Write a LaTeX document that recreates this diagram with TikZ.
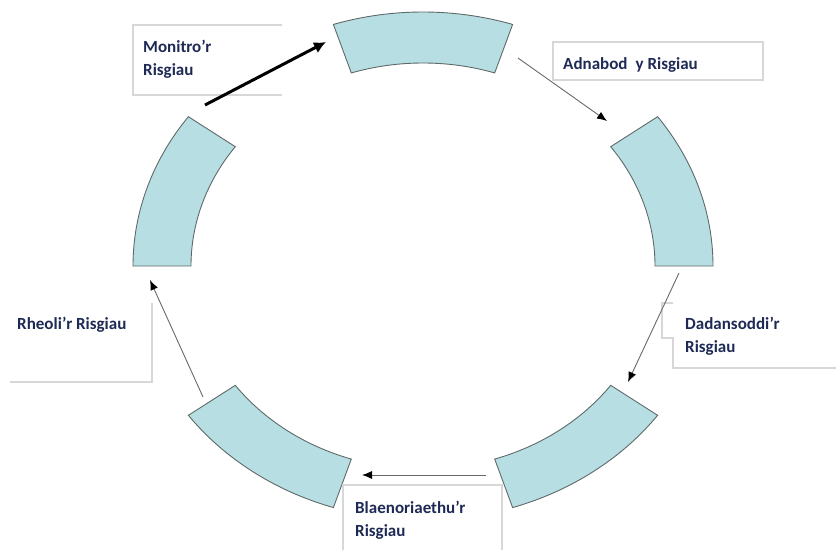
\documentclass[tikz,border=0pt]{standalone}
\usepackage{fontspec}
\setmainfont{Carlito}
\usetikzlibrary{arrows.meta}
\definecolor{segfill}{RGB}{183,223,227}
\definecolor{segline}{RGB}{95,105,105}
\definecolor{boxline}{RGB}{215,215,215}
\definecolor{txt}{RGB}{30,42,85}
\definecolor{arrgray}{RGB}{105,105,105}
\newcommand\ringseg[2]{%
  \path[seg] ({423+290*cos(#1)},{266-254*sin(#1)})
    arc[start angle={-(#1)}, end angle={-(#2)}, x radius=290, y radius=254]
    -- ({423+232*cos(#2)},{266-203*sin(#2)})
    arc[start angle={-(#2)}, end angle={-(#1)}, x radius=232, y radius=203]
    -- cycle;}
\begin{document}
\begin{tikzpicture}[x=1pt,y=-1pt,
  seg/.style={fill=segfill,draw=segline,line width=0.9pt},
  lbl/.style={anchor=base west,inner sep=0pt,font=\fontsize{17}{23}\selectfont\bfseries,text=txt,align=left},
  bline/.style={draw=boxline,line width=1.3pt},
  thinarr/.style={draw=arrgray,line width=0.9pt,-{Latex[length=10pt,width=8pt,color=black]}},
  thickarr/.style={draw=black,line width=3pt,-{Latex[length=12pt,width=12pt]}}]
\useasboundingbox (0,0) rectangle (836,550);

% ring segments
\ringseg{0}{36}
\ringseg{72}{108}
\ringseg{144}{180}
\ringseg{216}{252}
\ringseg{288}{324}

% text box borders
\draw[bline] (282,25) -- (133,25) -- (133,95) -- (282,95);
\draw[bline] (553,42) rectangle (763,80);
\draw[bline] (673,303) -- (662,303) -- (662,338) -- (673,338) -- (673,368) -- (836,368);
\draw[bline] (10,382) -- (152,382) -- (152,303);
\draw[bline] (343,550) -- (343,485) -- (502,485) -- (502,550);

% labels (two-line labels anchored at the baseline of their last line)
\node[lbl] (mon) at (143,75) {Monitro’r\\Risgiau};
\node[lbl] (adn) at (563,69) {Adnabod\hspace{0.25em} y Risgiau};
\node[lbl] (dad) at (685,352) {Dadansoddi’r\\Risgiau};
\node[lbl] (rhe) at (17,329) {Rheoli’r Risgiau};
\node[lbl] (bla) at (355,536) {Blaenoriaethu’r\\Risgiau};

% arrow ends
\coordinate (m1) at (205,105);
\coordinate (m2) at (326,42);
\coordinate (a1) at (518,58);
\coordinate (a2) at (607,121);
\coordinate (d1) at (679,273);
\coordinate (d2) at (628,382);
\coordinate (b1) at (486,475);
\coordinate (b2) at (362,475);
\coordinate (r1) at (203,397);
\coordinate (r2) at (150,280);

\draw[thickarr] (m1) -- (m2);
\draw[thinarr] (a1) -- (a2);
\draw[thinarr] (d1) -- (d2);
\draw[thinarr] (b1) -- (b2);
\draw[thinarr] (r1) -- (r2);
\end{tikzpicture}
\end{document}
